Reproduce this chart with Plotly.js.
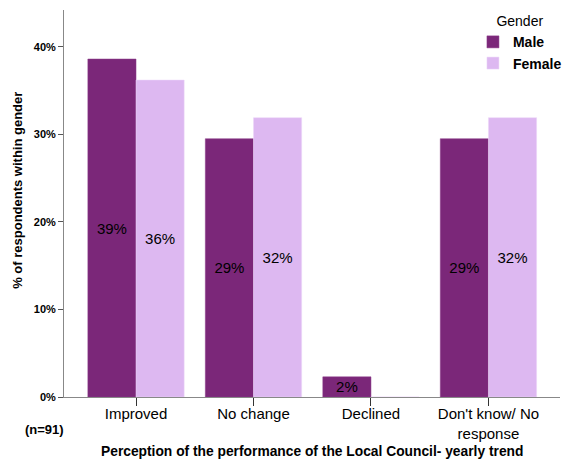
<!DOCTYPE html>
<html><head><meta charset="utf-8">
<script src="https://cdn.plot.ly/plotly-3.0.1.min.js"></script>
<style>html,body{margin:0;padding:0;background:#fff}</style>
</head><body>
<div id="chart" style="width:567px;height:461px"></div>
<script>
const categories = ["Improved", "No change", "Declined", "Don't know/ No<br>response"];
const maleValues = [38.6, 29.5, 2.3, 29.5];
const femaleValues = [36.2, 31.9, 0, 31.9];
const maleLabels = ["39%", "29%", "2%", "29%"];
const femaleLabels = ["36%", "32%", "", "32%"];
const yTickVals = [0, 10, 20, 30, 40];
const yTickText = ["0%", "10%", "20%", "30%", "40%"];

const font = "Liberation Sans, Arial, sans-serif";
const idx = categories.map((c, i) => i);

const traces = [
  {type: 'bar', name: 'Male', x: idx, y: maleValues, text: maleLabels,
   textposition: 'inside', insidetextanchor: 'middle', constraintext: 'none',
   textfont: {family: font, size: 15, color: '#000'},
   marker: {color: '#7B2779', line: {color: '#8a3a88', width: 0.5}}, hoverinfo: 'none'},
  {type: 'bar', name: 'Female', x: idx, y: femaleValues, text: femaleLabels,
   textposition: 'inside', insidetextanchor: 'middle', constraintext: 'none',
   textfont: {family: font, size: 15, color: '#000'},
   marker: {color: '#DDB8F1', line: {color: '#ecd6f8', width: 0.5}}, hoverinfo: 'none'}
];

const layout = {
  width: 567, height: 461,
  margin: {l: 64, r: 7, t: 10, b: 64, autoexpand: false},
  paper_bgcolor: '#fff', plot_bgcolor: '#fff',
  font: {family: font, color: '#000'},
  barmode: 'group', bargap: 0.18, bargroupgap: 0,
  showlegend: true,
  legend: {
    x: 1.014, y: 1.005, xanchor: 'right', yanchor: 'top',
    title: {text: 'Gender', font: {size: 14, family: font, weight: 'normal'}, side: 'top center'},
    font: {size: 14, family: font, weight: 'bold'},
    itemwidth: 30, tracegroupgap: 0, bgcolor: 'rgba(0,0,0,0)'
  },
  xaxis: {
    range: [-0.613, 3.609], tickmode: 'array', tickvals: idx, ticktext: categories,
    showline: true, linecolor: '#888', linewidth: 1,
    ticks: 'outside', ticklen: 8, tickcolor: '#333', tickfont: {size: 15, family: font},
    ticklabelstandoff: -5,
    showgrid: false, zeroline: false, fixedrange: true
  },
  yaxis: {
    range: [0, 44.2], tickmode: 'array', tickvals: yTickVals, ticktext: yTickText,
    showline: true, linecolor: '#888', linewidth: 1,
    ticks: 'outside', ticklen: 5, tickcolor: '#555', tickfont: {size: 11, family: font, weight: 'bold'},
    showgrid: false, zeroline: false, fixedrange: true
  },
  annotations: [
    {text: '% of respondents within gender', textangle: -90, xref: 'paper', yref: 'paper',
     x: -0.093, y: 0.535, xanchor: 'center', yanchor: 'middle', showarrow: false,
     font: {size: 13, family: font, weight: 'bold'}},
    {text: 'Perception of the performance of the Local Council- yearly trend', xref: 'paper', yref: 'paper',
     x: 0.5, y: -0.142, xanchor: 'center', yanchor: 'middle', showarrow: false,
     font: {size: 13.8, family: font, weight: 'bold'}},
    {text: '(n=91)', xref: 'paper', yref: 'paper', x: -0.04, y: -0.085, xanchor: 'center', yanchor: 'middle',
     showarrow: false, font: {size: 13, family: font, weight: 'bold'}}
  ]
};

Plotly.newPlot('chart', traces, layout, {displayModeBar: false, staticPlot: true});
</script>
</body></html>
